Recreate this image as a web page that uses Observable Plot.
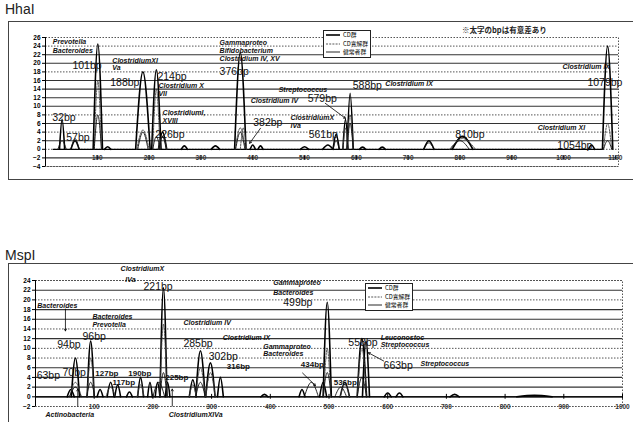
<!DOCTYPE html>
<html><head><meta charset="utf-8">
<script src="https://cdn.jsdelivr.net/npm/d3@7"></script>
<script src="https://cdn.jsdelivr.net/npm/@observablehq/plot@0.6"></script>
<style>
body{margin:0;width:633px;height:422px;overflow:hidden;background:#fff;font-family:"Liberation Sans",Arial,sans-serif;position:relative}
.abs{position:absolute}
.title{font-size:14px;color:#222}
.frame{border:1px solid #444;box-sizing:border-box}
.legend{border:1px solid #222;background:#fff;font-family:"Noto Sans CJK JP",sans-serif;font-size:5.8px;line-height:8.5px;padding:0 2px;box-sizing:border-box}
.legend div{display:flex;align-items:center;white-space:nowrap;height:8.5px}
.note{font-family:"Noto Sans CJK JP",sans-serif;font-size:7.5px;font-weight:bold;color:#222;white-space:nowrap}
</style></head><body>
<script>
// ---------- data ----------
const seriesNames = ["CD群", "CD寛解群", "健常者群"];

// HhaI peaks (bp position, height, half width) per series
const hhaCDx = [32, 57, 101, 120, 188, 214, 226, 268, 328, 376, 400, 415, 500, 545, 561, 579, 588, 612, 650, 740, 805, 1054, 1085];
const hhaCDy = [7, 2, 24.5, 0.6, 18, 18.5, 4, 0.8, 0.8, 22.5, 1, 0.8, 0.6, 1, 3.5, 7, 13, 0.5, 0.5, 2, 3, 1, 24];
const hhaCDw = [5, 8, 9, 6, 14, 9, 8, 6, 8, 11, 5, 5, 8, 10, 6, 5, 6, 6, 6, 10, 20, 6, 10];
const hhaRemx = [101, 188, 214, 226, 376, 382, 579, 588, 805, 1085];
const hhaRemy = [16, 4.5, 14, 3, 5, 5, 5, 8, 2.5, 6];
const hhaRemw = [7, 12, 7, 8, 10, 6, 5, 6, 25, 8];
const hhaHlx = [32, 57, 101, 188, 214, 226, 376, 561, 588, 740, 800, 1085];
const hhaHly = [2, 2.5, 8, 4, 3, 3, 4, 2, 6, 1.5, 2, 2];
const hhaHlw = [8, 8, 7, 10, 7, 7, 9, 6, 6, 10, 18, 8];

const hhaXTicks = [100, 200, 300, 400, 500, 600, 700, 800, 900, 1000, 1100];
const hhaYTicks = [-4, -2, 0, 2, 4, 6, 8, 10, 12, 14, 16, 18, 20, 22, 24, 26];
const hhaGridSolid = [2, 6, 10, 12, 14, 16, 20, 22];
const hhaGridDotted = [-4, 0, 4, 8, 18, 24];

const hhaBpText = ["32bp", "57bp", "101bp", "188bp", "214bp", "226bp", "376bp", "382bp", "561bp", "579bp", "588bp", "810bp", "1054bp", "1079bp"];
const hhaBpX = [13, 40, 52, 125, 216, 212, 336, 401, 508, 506, 593, 791, 988, 1046];
const hhaBpY = [7.4, 2.6, 19.5, 15.6, 16.8, 3.3, 18.1, 6.3, 3.5, 11.8, 14.7, 3.3, 0.9, 15.6];
const hhaTaxText = ["Prevotella", "Bacteroides", "ClostridiumXI", "Va", "Clostridium X", "VII", "ClostridiumI,", "XVIII", "Gammaproteo", "Bifidobacterium", "Clostridium IV, XV", "Streptococcus", "Clostridium IV", "Clostridium IX", "ClostridiumX", "IVa", "Clostridium XI", "Clostridium IX"];
const hhaTaxX = [14, 14, 129, 129, 218, 218, 226, 226, 336, 336, 336, 450, 396, 656, 473, 473, 950, 998];
const hhaTaxY = [24.9, 22.9, 20.7, 18.9, 14.8, 13, 8.4, 6.6, 24.8, 22.9, 21, 13.9, 11.2, 15.3, 7.3, 5.4, 4.9, 19.3];
const hhaArrowX1 = [415, 540], hhaArrowY1 = [4.9, 10.7], hhaArrowX2 = [394, 579], hhaArrowY2 = [1.4, 7.2];

// MspI peaks
const mspCDx = [60, 68, 94, 110, 128, 140, 160, 179, 195, 208, 218, 225, 268, 281, 298, 315, 390, 454, 490, 497, 527, 556, 563, 600, 620, 714, 850];
const mspCDy = [1.5, 8, 11.5, 1.5, 3, 2.5, 1, 4, 3, 3, 22.5, 3, 3.5, 9.5, 7, 4, 0.5, 1.5, 3, 19.5, 3, 12, 11.5, 0.8, 0.8, 0.5, 0.3];
const mspCDw = [6, 7, 6, 5, 6, 5, 5, 5, 4, 4, 6, 4, 6, 8, 8, 5, 6, 5, 6, 7, 8, 8, 6, 6, 6, 8, 30];
const mspRemx = [68, 94, 128, 179, 218, 268, 281, 298, 497, 527, 556];
const mspRemy = [3, 8, 2, 2.5, 15, 2.5, 6, 5, 10, 2.5, 10];
const mspRemw = [10, 6, 8, 6, 6, 6, 8, 8, 6, 8, 8];
const mspHlx = [68, 94, 210, 218, 281, 470, 497, 520, 556];
const mspHly = [2, 3, 3, 5, 3, 3, 5, 2, 4];
const mspHlw = [10, 7, 10, 6, 8, 12, 7, 10, 8];

const mspXTicks = [100, 200, 300, 400, 500, 600, 700, 800, 900, 1000];
const mspYTicks = [-2, 0, 2, 4, 6, 8, 10, 12, 14, 16, 18, 20, 22, 24];
const mspGridSolid = [2, 4, 6, 12, 16, 18, 22];
const mspGridDotted = [-2, 8, 10, 14, 20, 24];

const mspBpText = ["221bp", "94bp", "96bp", "63bp", "70bp", "285bp", "302bp", "499bp", "558bp", "663bp"];
const mspBpX = [184, 37, 80, 2, 46, 252, 295, 422, 533, 593];
const mspBpY = [22.7, 10.7, 12.4, 4.3, 4.9, 10.9, 8.3, 19.4, 11.1, 6.4];
const mspBpMinorText = ["127bp", "117bp", "190bp", "225bp", "316bp", "434bp", "536bp"];
const mspBpMinorX = [102, 131, 158, 221, 326, 452, 508];
const mspBpMinorY = [4.9, 2.9, 4.9, 3.9, 6.2, 6.6, 2.9];
const mspTaxText = ["ClostridiumX", "IVa", "Bacteroides", "Bacteroides", "Prevotella", "Clostridium IV", "Clostridium IX", "Gammaproteo", "Bacteroides", "Gammaproteo", "Bacteroides", "Leuconostoc", "Streptococcus", "Streptococcus", "Actinobacteria", "ClostridiumXIVa"];
const mspTaxX = [145, 153, 3, 97, 97, 252, 319, 388, 388, 405, 405, 588, 588, 656, 17, 227];
const mspTaxY = [26.4, 24.1, 18.8, 16.5, 14.8, 15.3, 12.2, 10.4, 8.9, 23.5, 21.4, 12.2, 10.7, 6.8, -3.6, -3.6];
const mspArrowX1 = [51, 72, 233, 455, 593], mspArrowY1 = [18.1, -1.9, -1.9, 4.9, 7.4];
const mspArrowX2 = [51, 72, 233, 477, 567], mspArrowY2 = [13.6, 1.6, 1.6, 2.3, 9.1];

// ---------- helpers ----------
function peaks(xs, ys, ws, s) {
  const rows = [];
  xs.forEach((c, i) => {
    rows.push({x: c - ws[i], y: 0, id: s + "-" + i});
    rows.push({x: c, y: ys[i], id: s + "-" + i});
    rows.push({x: c + ws[i], y: 0, id: s + "-" + i});
  });
  return rows;
}
function labelRows(t, x, y) { return t.map((d, i) => ({t: d, x: x[i], y: y[i]})); }
function arrowRows(x1, y1, x2, y2) { return x1.map((d, i) => ({x1: d, y1: y1[i], x2: x2[i], y2: y2[i]})); }

const seriesStyle = [
  {stroke: "#000", strokeWidth: 1.6},
  {stroke: "#444", strokeWidth: 0.9, strokeDasharray: "2,1.2"},
  {stroke: "#111", strokeWidth: 0.9}
];

function chart(cfg) {
  const sets = [cfg.cd, cfg.rem, cfg.hl];
  const lineMarks = sets.map((p, k) => Plot.line(peaks(p[0], p[1], p[2], k), {x: "x", y: "y", z: "id", curve: "monotone-x", ...seriesStyle[k]}));
  return Plot.plot({
    width: 633, height: cfg.height,
    marginLeft: cfg.ml, marginRight: cfg.mr, marginTop: cfg.mt, marginBottom: cfg.mb,
    x: {domain: cfg.xd, axis: null},
    y: {domain: cfg.yd, axis: null},
    style: {fontFamily: "'Liberation Sans', Arial, sans-serif", fontSize: "8px", background: "transparent", overflow: "visible"},
    marks: [
      Plot.frame({stroke: "#555", strokeDasharray: "1.5,1.5"}),
      Plot.ruleY(cfg.gs, {stroke: "#333", strokeWidth: 1.1}),
      Plot.ruleY(cfg.gd, {stroke: "#555", strokeDasharray: "1.5,1.5"}),
      Plot.ruleY([cfg.axisY], {stroke: "#000", strokeWidth: 1}),
      Plot.ruleX(cfg.xt, {y1: cfg.axisY - 0.5, y2: cfg.axisY + 0.5, stroke: "#000"}),
      Plot.ruleX([0], {stroke: "#000"}),
      Plot.axisY(cfg.yt, {tickSize: 3, fontSize: 6.5, fontWeight: "bold", tickPadding: 2, label: null}),
      Plot.text(cfg.xt, {x: d => d, y: cfg.labelY, text: d => String(d), fontSize: 6.5, fontWeight: "bold", fill: "#333"}),
      Plot.ruleY([0], {x1: cfg.base[0], x2: cfg.base[1], stroke: "#000", strokeWidth: 1.2}),
      ...lineMarks,
      Plot.arrow(cfg.arrows, {x1: "x1", y1: "y1", x2: "x2", y2: "y2", stroke: "#000", strokeWidth: 0.8, headLength: 4}),
      Plot.text(cfg.bp, {x: "x", y: "y", text: "t", textAnchor: "start", fontSize: 10.5, fill: "#111", fontWeight: 500}),
      Plot.text(cfg.bpMinor, {x: "x", y: "y", text: "t", textAnchor: "start", fontSize: 8, fill: "#111", fontWeight: "bold"}),
      Plot.text(cfg.tax, {x: "x", y: "y", text: "t", textAnchor: "start", fontSize: 7, fontStyle: "italic", fontWeight: "bold", fill: "#111"})
    ]
  });
}

function legend(left, topPx) {
  const box = document.createElement("div");
  box.className = "abs legend";
  box.style.left = left + "px"; box.style.top = topPx + "px";
  seriesNames.forEach((n, k) => {
    const row = document.createElement("div");
    const st = seriesStyle[k];
    row.innerHTML = `<svg width="14" height="6" style="margin-right:3px"><line x1="0" y1="3" x2="14" y2="3" stroke="${st.stroke}" stroke-width="${st.strokeWidth}" ${st.strokeDasharray ? `stroke-dasharray="${st.strokeDasharray}"` : ""}/></svg><span>${n}</span>`;
    box.appendChild(row);
  });
  document.body.appendChild(box);
}

function place(el, left, topPx) { el.style.position = "absolute"; el.style.left = left + "px"; el.style.top = topPx + "px"; document.body.appendChild(el); }

function addDiv(cls, left, topPx, w, h, txt) {
  const d = document.createElement("div"); d.className = "abs " + cls;
  d.style.left = left + "px"; d.style.top = topPx + "px";
  if (w) d.style.width = w + "px"; if (h) d.style.height = h + "px";
  if (txt) d.textContent = txt;
  document.body.appendChild(d); return d;
}
addDiv("title", 5, 1, 0, 0, "HhaI");
addDiv("frame", 8, 21, 640, 159);
addDiv("title", 5, 247, 0, 0, "MspI");
addDiv("frame", 8, 263, 640, 200);

const chartTop = chart({
  height: 159, ml: 45, mr: 15, mt: 16, mb: 14,
  xd: [0, 1106], yd: [-4, 26],
  cd: [hhaCDx, hhaCDy, hhaCDw], rem: [hhaRemx, hhaRemy, hhaRemw], hl: [hhaHlx, hhaHly, hhaHlw],
  xt: hhaXTicks, yt: hhaYTicks, gs: hhaGridSolid, gd: hhaGridDotted, axisY: -2, labelY: -2,
  base: [15, 1075],
  arrows: arrowRows(hhaArrowX1, hhaArrowY1, hhaArrowX2, hhaArrowY2),
  bp: labelRows(hhaBpText, hhaBpX, hhaBpY), bpMinor: [], tax: labelRows(hhaTaxText, hhaTaxX, hhaTaxY)
});
place(chartTop, 0, 21);

const chartBottom = chart({
  height: 159, ml: 35, mr: 11, mt: 17, mb: 16,
  xd: [0, 1000], yd: [-2, 24],
  cd: [mspCDx, mspCDy, mspCDw], rem: [mspRemx, mspRemy, mspRemw], hl: [mspHlx, mspHly, mspHlw],
  xt: mspXTicks, yt: mspYTicks, gs: mspGridSolid, gd: mspGridDotted, axisY: 0, labelY: -2,
  base: [0, 1000],
  arrows: arrowRows(mspArrowX1, mspArrowY1, mspArrowX2, mspArrowY2),
  bp: labelRows(mspBpText, mspBpX, mspBpY),
  bpMinor: labelRows(mspBpMinorText, mspBpMinorX, mspBpMinorY),
  tax: labelRows(mspTaxText, mspTaxX, mspTaxY)
});
place(chartBottom, 0, 263);

legend(323, 30);
legend(365, 283);
addDiv("note", 462, 24, 0, 0, "※太字のbpは有意差あり");
</script>
</body></html>
